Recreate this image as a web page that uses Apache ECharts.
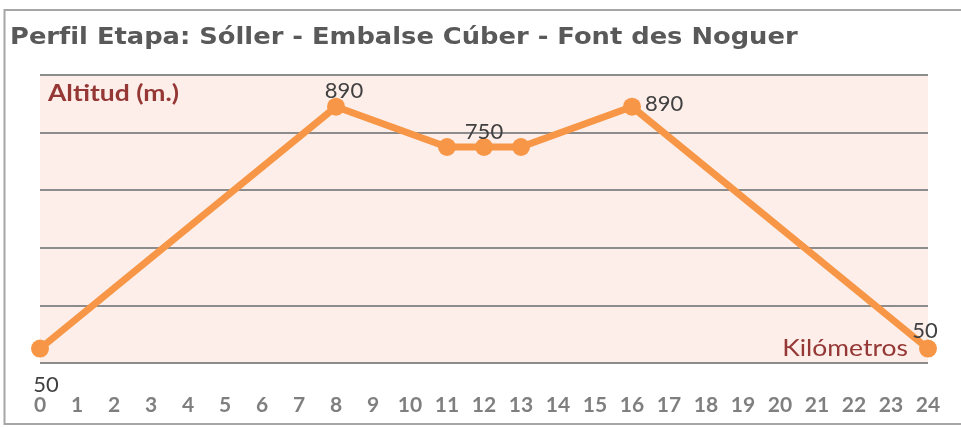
<!DOCTYPE html>
<html lang="es">
<head>
    <meta charset="UTF-8">
    <title>Perfil Etapa</title>
    <script src="https://cdn.jsdelivr.net/npm/echarts@6/dist/echarts.min.js"></script>
    <style>
        body { margin: 0; background: #fff; }
    </style>
</head>
<body>
<div id="main" style="width: 961px;height:427px;"></div>
<script type="text/javascript">
    // datos del perfil (km, altitud)
    var kms = [0, 8, 11, 12, 13, 16, 24];
    var altitudes = [50, 890, 750, 750, 750, 890, 50];
    // que puntos llevan etiqueta y donde
    var etiquetas = ['bottom', 'top', null, 'top', null, 'right', 'top'];
    var xTicks = [0, 24, 1];
    var yTicks = [0, 1000, 200];

    var naranja = '#f79646';
    // ajustes finos de las etiquetas
    var desplaz = [[6, 1], [8, 8], null, [0, 9], null, [0, -3], [-3, 6]];

    var puntos = kms.map(function (k, i) {
        var p = { value: [k, altitudes[i]] };
        if (etiquetas[i]) {
            p.label = { show: true, position: etiquetas[i], offset: desplaz[i] };
            if (i === 0) p.label.distance = 15;
        }
        return p;
    });

    var myChart = echarts.init(document.getElementById('main'));

    var option = {
        animation: false,
        grid: {
            left: 40,
            right: 33,
            top: 75,
            bottom: 64,
            show: true,
            backgroundColor: '#fdeee9',
            borderWidth: 0
        },
        xAxis: {
            type: 'value',
            min: xTicks[0],
            max: xTicks[1],
            interval: xTicks[2],
            axisLine: { show: false },
            axisTick: { show: false },
            splitLine: { show: false },
            axisLabel: {
                margin: 32,
                fontFamily: 'Lato',
                fontWeight: 'bold',
                fontSize: 21,
                color: '#7f7f7f'
            }
        },
        yAxis: {
            type: 'value',
            min: yTicks[0],
            max: yTicks[1],
            interval: yTicks[2],
            axisLine: { show: false },
            axisTick: { show: false },
            axisLabel: { show: false },
            splitLine: { lineStyle: { color: '#8c8c8c', width: 2 } }
        },
        graphic: [
            {
                type: 'polyline',
                shape: { points: [[961, 10], [4.5, 10], [4.5, 424], [961, 424]] },
                style: { stroke: '#a6a6a6', lineWidth: 2, fill: null },
                silent: true
            },
            {
                type: 'text',
                x: 10,
                y: 27,
                scaleX: 1.12,
                style: {
                    text: 'Perfil Etapa: Sóller - Embalse Cúber - Font des Noguer',
                    fontFamily: 'DejaVu Sans',
                    fontWeight: 'bold',
                    fontSize: 23,
                    fill: '#595959',
                    verticalAlign: 'top'
                }
            },
            {
                type: 'text',
                x: 48,
                y: 82,
                scaleX: 1.15,
                style: {
                    text: 'Altitud (m.)',
                    fontFamily: 'Lato',
                    fontWeight: 'bold',
                    fontSize: 23,
                    fill: '#953735',
                    verticalAlign: 'top'
                }
            },
            {
                type: 'text',
                x: 908,
                y: 337,
                scaleX: 1.15,
                style: {
                    text: 'Kilómetros',
                    fontFamily: 'Lato',
                    fontSize: 23,
                    fill: '#953735',
                    align: 'right',
                    verticalAlign: 'top'
                }
            }
        ],
        series: [
            {
                type: 'line',
                data: puntos,
                symbol: 'circle',
                symbolSize: 18,
                lineStyle: { color: naranja, width: 7 },
                itemStyle: { color: naranja },
                label: {
                    distance: 4,
                    fontFamily: 'Lato',
                    fontSize: 22,
                    color: '#404040'
                }
            }
        ]
    };

    myChart.setOption(option);
</script>
</body>
</html>
